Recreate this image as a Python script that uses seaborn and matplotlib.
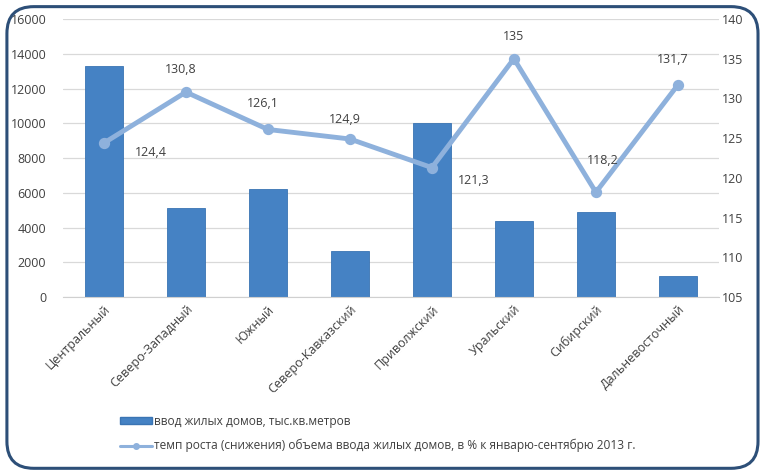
import pandas as pd
import matplotlib.pyplot as plt
import seaborn as sns
from matplotlib.patches import FancyBboxPatch, Patch
from matplotlib.lines import Line2D

# --- Data ---
regions = ['Центральный', 'Северо-Западный', 'Южный', 'Северо-Кавказский',
           'Приволжский', 'Уральский', 'Сибирский', 'Дальневосточный']
housing = [13300, 5150, 6200, 2680, 10000, 4400, 4900, 1200]
growth = [124.4, 130.8, 126.1, 124.9, 121.3, 135, 118.2, 131.7]
growth_labels = ['124,4', '130,8', '126,1', '124,9', '121,3', '135', '118,2', '131,7']

bar_name = 'ввод жилых домов, тыс.кв.метров'
line_name = 'темп роста (снижения) объема ввода жилых домов, в % к январю-сентябрю 2013 г.'

df = pd.DataFrame({'region': regions, 'housing': housing, 'growth': growth})

# --- Style ---
sns.set_style('white')
plt.rcParams['font.family'] = ['Open Sans', 'DejaVu Sans']

bar_color = '#4582c4'
line_color = '#8eb1dc'
text_color = '#404040'

fig = plt.figure(figsize=(7.68, 4.74), dpi=100)
ax = fig.add_axes([0.082, 0.373, 0.854, 0.587])

sns.barplot(data=df, x='region', y='housing', color=bar_color, width=0.46,
            saturation=1, edgecolor='#3a74b3', linewidth=0.6, ax=ax, zorder=2)
ax.set_ylim(0, 16000)
ax.set_yticks(range(0, 16001, 2000))
ax.grid(axis='y', color='#d9d9d9', linewidth=0.9, zorder=0)
ax.set_axisbelow(True)
ax.set_xlabel('')
ax.set_ylabel('')
for s in ['top', 'right', 'left']:
    ax.spines[s].set_visible(False)
ax.spines['bottom'].set_color('#d0d0d0')
ax.tick_params(axis='y', labelsize=9, colors=text_color, length=0, pad=12)
ax.tick_params(axis='x', length=0, pad=4)
ax.set_xticks(range(len(regions)))
ax.set_xticklabels(regions, rotation=45, ha='right', rotation_mode='anchor',
                   fontsize=9, color=text_color)

ax2 = ax.twinx()
sns.pointplot(data=df, x='region', y='growth', color=line_color, markers='o',
              markersize=5.5, linewidth=3.5, ax=ax2, zorder=3)
ax2.set_ylim(105, 140)
ax2.set_yticks(range(105, 141, 5))
ax2.set_ylabel('')
ax2.set_xlabel('')
for s in ['top', 'right', 'left', 'bottom']:
    ax2.spines[s].set_visible(False)
ax2.tick_params(axis='y', labelsize=9, colors=text_color, length=0, pad=2)
ax2.grid(False)

# offsets of the value labels, in points
offsets = [(34, -7), (-4, 16), (-4, 19), (-4, 14), (30, -9), (0, 16), (5, 23), (-4, 18)]
for i, (v, lab) in enumerate(zip(growth, growth_labels)):
    ax2.annotate(lab, (i, v), xytext=offsets[i], textcoords='offset points',
                 ha='center', va='center', fontsize=9, color=text_color)

# legend
handles = [Patch(facecolor=bar_color, edgecolor='#3a74b3'),
           Line2D([0], [0], color=line_color, linewidth=2.2, marker='o', markersize=4)]
fig.legend(handles, [bar_name, line_name], loc='upper left',
           bbox_to_anchor=(0.150, 0.135), frameon=False, fontsize=8.6,
           handlelength=2.7, handleheight=0.55, handletextpad=0.15,
           labelspacing=0.95, labelcolor=text_color, borderaxespad=0)

# rounded border
border = FancyBboxPatch((0.009, 0.012), 0.978, 0.974, boxstyle='round,pad=0,rounding_size=0.035',
                        transform=fig.transFigure, facecolor='none',
                        edgecolor='#2d4f78', linewidth=2.2, mutation_aspect=768 / 474)
fig.patches.append(border)

fig.savefig('out.png', dpi=100)
